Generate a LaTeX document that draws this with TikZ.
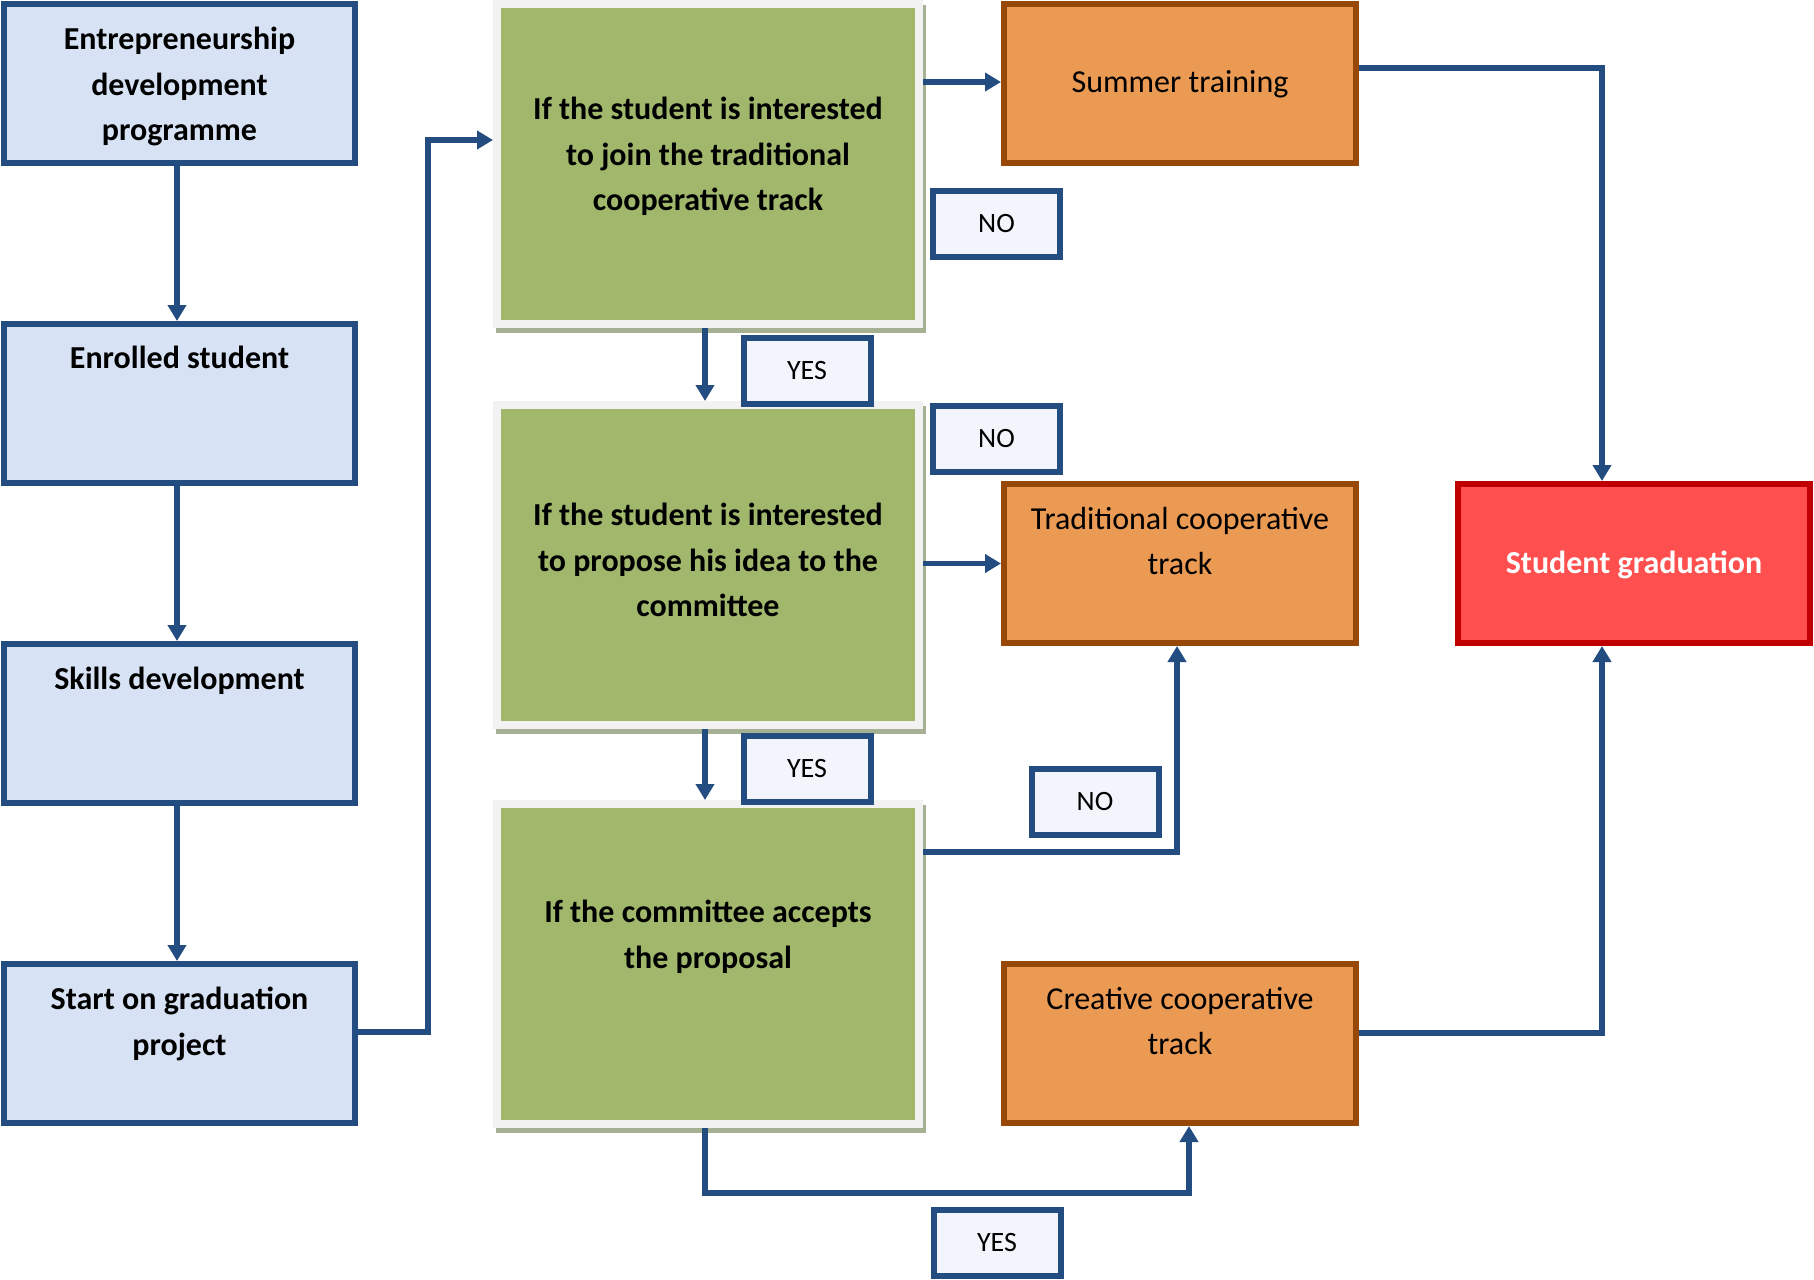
\documentclass[tikz,border=0pt]{standalone}
\usepackage{fontspec}
\setmainfont{Carlito}
\usetikzlibrary{arrows.meta,shadows}
\definecolor{lineblue}{RGB}{35,76,128}
\definecolor{boxblue}{RGB}{215,227,244}
\definecolor{labelfill}{RGB}{242,245,251}
\definecolor{greenfill}{RGB}{160,183,108}
\definecolor{greenframe}{RGB}{242,242,242}
\definecolor{greenshade}{RGB}{166,176,146}
\definecolor{orangefill}{RGB}{235,154,83}
\definecolor{orangeline}{RGB}{152,72,6}
\definecolor{redfill}{RGB}{255,79,79}
\definecolor{redline}{RGB}{192,0,0}
\begin{document}
\begin{tikzpicture}[x=0.5pt,y=-0.5pt,
  every node/.style={font=\fontsize{16}{22.6}\selectfont},
  bluebox/.style={draw=lineblue, fill=boxblue, line width=3pt,
    minimum width=175.5pt, minimum height=79.5pt, inner sep=0pt},
  greenbox/.style={draw=greenframe, fill=greenfill, line width=4pt,
    minimum width=211pt, minimum height=160pt, inner sep=0pt,
    general shadow={draw=greenshade, fill=greenshade, line width=4pt,
      shadow xshift=1.5pt, shadow yshift=-2.5pt}},
  orangebox/.style={draw=orangeline, fill=orangefill, line width=3pt,
    minimum width=176pt, minimum height=79.5pt, inner sep=0pt},
  redbox/.style={draw=redline, fill=redfill, line width=3pt,
    minimum width=176pt, minimum height=79.5pt, inner sep=0pt},
  answer/.style={draw=lineblue, fill=labelfill, line width=3pt,
    minimum width=63.5pt, minimum height=33pt, inner sep=0pt,
    font=\fontsize{14}{16}\selectfont},
  boldtext/.style={anchor=north, inner sep=0pt, align=center,
    font=\fontsize{16}{22.6}\selectfont\bfseries},
  plaintext/.style={anchor=north, inner sep=0pt, align=center,
    font=\fontsize{16}{22.6}\selectfont},
  conn/.style={draw=lineblue, line width=2.6pt,
    -{Triangle[length=8pt,width=9pt]}}
]
\fill[white] (0,0) rectangle (1814,1279);
\useasboundingbox (0,0) rectangle (1814,1279);

% left column
\node[bluebox] (b1) at (179.5,83.5) {};
\node[bluebox] (b2) at (179.5,403.5) {};
\node[bluebox] (b3) at (179.5,723.5) {};
\node[bluebox] (b4) at (179.5,1043.5) {};
\node[boldtext] (b1t) at (179.5,27) {Entrepreneurship\\development\\programme};
\node[boldtext] (b2t) at (179.5,346) {Enrolled student};
\node[boldtext] (b3t) at (179.5,667) {Skills development};
\node[boldtext] (b4t) at (179.5,987) {Start on graduation\\project};

% decision column
\node[greenbox] (g1) at (708,164) {};
\node[greenbox] (g2) at (708,565) {};
\node[greenbox] (g3) at (708,964) {};
\node[boldtext] (g1t) at (708,97) {If the student is interested\\to join the traditional\\cooperative track};
\node[boldtext] (g2t) at (708,503) {If the student is interested\\to propose his idea to the\\committee};
\node[boldtext] (g3t) at (708,900) {If the committee accepts\\the proposal};

% tracks
\node[orangebox] (s) at (1180,83.5) {};
\node[orangebox] (t) at (1180,563.5) {};
\node[orangebox] (c) at (1180,1043.5) {};
\node[plaintext] (st) at (1180,70) {Summer training};
\node[plaintext] (tt) at (1180,507) {Traditional cooperative\\track};
\node[plaintext] (ct) at (1180,987) {Creative cooperative\\track};

% outcome
\node[redbox] (r) at (1634,563.5) {};
\node[boldtext, text=white] (rt) at (1634,551) {Student graduation};

% answers
\node[answer] (no1) at (996.5,224) {NO};
\node[answer] (no2) at (996.5,438.5) {NO};
\node[answer] (yes1) at (807,371) {YES};
\node[answer] (yes2) at (807,769) {YES};
\node[answer] (no3) at (1095,802) {NO};
\node[answer] (yes3) at (997,1242.5) {YES};

% connectors
\coordinate (colL) at (177,0);
\coordinate (colM) at (705,0);
\draw[conn] (b1.south -| colL) -- (b2.north -| colL);
\draw[conn] (b2.south -| colL) -- (b3.north -| colL);
\draw[conn] (b3.south -| colL) -- (b4.north -| colL);
\coordinate (j1) at (428,1032);
\coordinate (j2) at (428,140);
\draw[conn] (b4.east |- j1) -- (j1) -- (j2) -- (g1.west |- j2);
\coordinate (j3) at (920,82);
\draw[conn] (g1.east |- j3) -- (s.west |- j3);
\draw[conn] (g1.south -| colM) -- (g2.north -| colM);
\draw[conn] (g2.east |- t.west) -- (t.west);
\draw[conn] (g2.south -| colM) -- (g3.north -| colM);
\coordinate (j4) at (1177,852);
\draw[conn] (g3.east |- j4) -- (j4) -- (j4 |- t.south);
\coordinate (j5) at (1189,1193);
\draw[conn] (g3.south -| colM) -- (j5 -| colM) -- (j5) -- (j5 |- c.south);
\coordinate (j6) at (1602,68);
\draw[conn] (s.east |- j6) -- (j6) -- (j6 |- r.north);
\coordinate (j7) at (1602,1033);
\draw[conn] (c.east |- j7) -- (j7) -- (j7 |- r.south);
\end{tikzpicture}
\end{document}
